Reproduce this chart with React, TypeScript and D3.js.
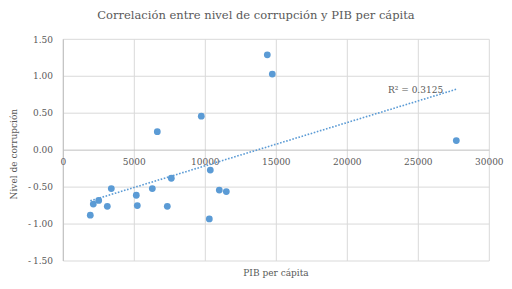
import React from "react";
import * as d3 from "d3";

const pib = [1901, 2113, 2493, 3099, 3380, 5141, 5211, 6268, 6620, 7324, 7606, 9718, 10352, 10282, 10986, 11479, 14366, 14718, 27676];
const corrupcion = [-0.88, -0.73, -0.68, -0.76, -0.52, -0.61, -0.75, -0.52, 0.25, -0.76, -0.38, 0.46, -0.27, -0.93, -0.54, -0.56, 1.29, 1.03, 0.13];
const xTicks = [0, 5000, 10000, 15000, 20000, 25000, 30000];
const yTicks = [1.5, 1.0, 0.5, 0.0, -0.5, -1.0, -1.5];
const rSquaredLabel = "R² = 0.3125";

const W = 512, H = 289;
const serif = "DejaVu Serif";

export default function App() {
  const x = d3.scaleLinear().domain([0, 30000]).range([63.3, 489.3]);
  const y = d3.scaleLinear().domain([-1.5, 1.5]).range([261, 39.3]);

  const n = pib.length;
  const mx = d3.mean(pib)!;
  const my = d3.mean(corrupcion)!;
  let sxy = 0, sxx = 0;
  for (let i = 0; i < n; i++) {
    sxy += (pib[i] - mx) * (corrupcion[i] - my);
    sxx += (pib[i] - mx) ** 2;
  }
  const slope = sxy / sxx;
  const intercept = my - slope * mx;
  const xMin = d3.min(pib)!, xMax = d3.max(pib)!;
  const line = d3.line<number>().x((d) => x(d)).y((d) => y(intercept + slope * d));

  const fmtY = (v: number) => (v < 0 ? "-\u2009" + Math.abs(v).toFixed(2) : v.toFixed(2));
  const ts = { fontFamily: serif };

  return (
    <svg width={W} height={H} style={{ position: "absolute", left: 0, top: 0, background: "#fff" }}>
      <rect width={W} height={H} fill="#fff" />
      <text x={256} y={19} textAnchor="middle" style={ts} fontSize={11.5} fill="#595959">
        Correlación entre nivel de corrupción y PIB per cápita
      </text>
      {xTicks.map((t) => (
        <line key={"gx" + t} x1={x(t)} x2={x(t)} y1={y(1.5)} y2={y(-1.5)} stroke="#d9d9d9" strokeWidth={1} />
      ))}
      {yTicks.map((t) => (
        <line key={"gy" + t} x1={x(0)} x2={x(30000)} y1={y(t)} y2={y(t)} stroke={t === 0 ? "#bfbfbf" : "#d9d9d9"} strokeWidth={1} />
      ))}
      <line x1={x(0)} x2={x(0)} y1={y(1.5)} y2={y(-1.5)} stroke="#bfbfbf" strokeWidth={1} />
      {yTicks.map((t) => (
        <text key={"ty" + t} x={53} y={y(t) + 3.2} textAnchor="end" style={ts} fontSize={9} fill="#595959">
          {fmtY(t)}
        </text>
      ))}
      {xTicks.map((t) => (
        <text key={"tx" + t} x={x(t)} y={y(0) + 15} textAnchor="middle" style={ts} fontSize={9} fill="#595959">
          {t}
        </text>
      ))}
      <path d={line([xMin, xMax]) || ""} fill="none" stroke="#5b9bd5" strokeWidth={1.6} strokeDasharray="1.6,1.6" />
      {pib.map((v, i) => (
        <circle key={i} cx={x(v)} cy={y(corrupcion[i])} r={3.4} fill="#5b9bd5" />
      ))}
      <text x={388} y={93} style={ts} fontSize={9} fill="#595959">
        {rSquaredLabel}
      </text>
      <text x={276} y={276} textAnchor="middle" style={ts} fontSize={9} fill="#595959">
        PIB per cápita
      </text>
      <text transform={`translate(17,${y(0) + 4}) rotate(-90)`} textAnchor="middle" style={ts} fontSize={9} fill="#595959">
        Nivel de corrupción
      </text>
    </svg>
  );
}
